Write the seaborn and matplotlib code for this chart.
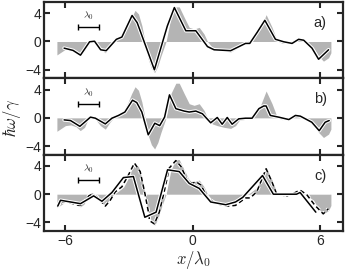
import numpy as np
import pandas as pd
import matplotlib
matplotlib.use("Agg")
import matplotlib.pyplot as plt
import matplotlib.patheffects as pe
import seaborn as sns

# Exact spectrum (gray fill)
x_exact = [-6.4, -6.25, -6.0, -5.75, -5.5, -5.3, -5.1, -4.9, -4.75, -4.6, -4.35, -4.12,
           -3.9, -3.7, -3.5, -3.25, -3.05, -2.88, -2.72, -2.56, -2.4, -2.25, -2.1, -1.95,
           -1.8, -1.65, -1.5, -1.26, -1.03, -0.8, -0.64, -0.41, -0.17, 0.06, 0.3, 0.53,
           0.69, 0.92, 1.15, 1.47, 1.78, 2.01, 2.2, 2.4, 2.7, 2.95, 3.19, 3.45, 3.73,
           3.97, 4.2, 4.5, 4.83, 5.06, 5.37, 5.68, 5.92, 6.15, 6.39, 6.5]
y_exact = [-1.9, -1.6, -1.1, -1.0, -1.25, -1.8, -1.35, 0.0, 0.25, -0.15, -1.1, -1.6,
           -0.6, 0.1, 0.43, 1.05, 2.2, 3.45, 4.4, 3.9, 2.25, 0.0, -2.5, -3.8,
           -4.4, -3.5, -2.05, 0.0, 3.45, 4.9, 4.9, 3.45, 2.0, 1.77, 2.0, 1.05,
           0.0, -0.86, -1.1, -1.34, -1.49, -1.1, -0.3, -0.25, 0.2, 0.8, 1.8, 3.8, 2.0,
           0.1, -0.25, -0.15, 0.33, 0.25, -0.15, -0.86, -2.06, -2.78, -2.3, -1.6]

# panel a) solid line
x_a = [-6.06, -5.64, -5.29, -4.86, -4.63, -4.34, -4.08, -3.6, -3.34, -2.86, -2.62, -1.81,
       -1.2, -0.87, -0.33, 0.14, 0.69, 1.0, 1.78, 2.48, 2.68, 3.03, 3.39, 3.89, 4.28,
       4.67, 4.98, 5.22, 5.61, 5.92, 6.39]
y_a = [-0.94, -1.26, -1.93, -0.04, 0.04, -1.17, -1.3, 0.31, 0.63, 3.68, 2.66, -4.0,
       2.2, 4.8, 1.52, 1.52, -0.72, -1.17, -1.3, -0.27, -0.27, 1.3, 3.0, 0.31, -0.04,
       -0.27, 0.31, 0.18, -0.94, -2.51, -1.17]

# panel b) solid line
x_b = [-6.06, -5.76, -5.32, -4.82, -4.59, -4.12, -3.81, -3.5, -3.2, -2.84, -2.64, -2.4,
       -2.1, -1.79, -1.56, -1.33, -1.1, -0.8, -0.41, -0.17, 0.14, 0.45, 0.84, 1.15,
       1.38, 1.62, 1.85, 2.16, 2.48, 2.79, 3.11, 3.34, 3.45, 3.65, 4.04, 4.52, 4.83,
       5.06, 5.6, 5.95, 6.23, 6.42]
y_b = [-0.29, -0.38, -1.2, 0.1, -0.05, -0.86, -0.05, 0.34, 0.82, 2.5, 2.16, 0.82,
       -2.4, -0.76, -1.1, 0.1, 3.25, 1.3, 0.96, 0.82, 0.96, 0.58, -0.7, 0.05,
       -0.9, 0.05, -0.9, -0.14, -0.05, -0.05, 1.3, 1.68, 1.68, 0.34, 0.1, -0.24, 0.34,
       0.24, -0.62, -1.82, -0.62, -0.38]

# panel c) solid line
x_c = [-6.36, -6.23, -5.76, -5.29, -4.67, -4.28, -3.81, -3.27, -2.8, -2.26, -1.73, -1.19,
       -0.64, -0.17, 0.3, 0.84, 1.55, 2.01, 2.35, 3.28, 3.79, 4.88, 5.05, 5.79]
y_c = [-1.68, -0.86, -1.1, -1.34, -0.24, -1.0, 0.24, 2.35, 2.5, -3.26, -2.54, 3.45,
       3.2, 1.53, 0.82, -1.1, -1.49, -1.1, -0.45, 2.64, 0.0, 0.0, 0.24, -2.54]

# panel c) dashed line
x_d = [-6.39, -6.23, -5.92, -5.37, -5.21, -4.9, -4.74, -4.51, -4.12, -3.89, -3.65, -3.34,
       -3.03, -2.75, -2.48, -2.25, -2.09, -2.04, -1.81, -1.58, -1.35, -1.11, -0.8, -0.56,
       -0.25, -0.02, 0.14, 0.38, 0.69, 1.08, 1.7, 2.01, 2.48, 2.7, 3.01, 3.45, 3.72,
       3.95, 4.42, 4.73, 5.04, 5.36, 5.75, 6.14, 6.38]
y_d = [-1.82, -1.1, -1.1, -1.58, -1.58, -0.24, 0.0, -0.38, -1.68, -0.86, 0.34, 1.05,
       2.73, 4.4, 3.2, 0.0, -2.54, -3.74, -4.2, -2.54, 0.34, 3.7, 4.75, 3.93,
       1.87, 1.53, 1.77, 1.3, -0.53, -1.34, -1.68, -1.58, -0.53, -0.53, 0.34, 3.6, 1.77,
       0.0, -0.24, 0.1, 0.58, -0.05, -1.58, -2.78, -2.06]

panel_labels = ["a)", "b)", "c)"]

sns.set_style("ticks")
plt.rcParams["font.family"] = ["Liberation Sans", "DejaVu Sans"]
plt.rcParams["mathtext.fontset"] = "cm"

fig, axes = plt.subplots(3, 1, figsize=(3.45, 2.73), dpi=100, sharex=True)
fig.subplots_adjust(left=0.128, right=0.993, top=0.993, bottom=0.154, hspace=0)

halo = [pe.withStroke(linewidth=2.6, foreground="white")]
solid = [(x_a, y_a), (x_b, y_b), (x_c, y_c)]

for i, ax in enumerate(axes):
    ax.fill_between(x_exact, 0, y_exact, color="#b4b4b4", lw=0)
    if i == 2:
        sns.lineplot(x=x_d, y=y_d, ax=ax, sort=False, color="black", lw=1.1,
                     linestyle=(0, (3, 2)), path_effects=halo)
    xs, ys = solid[i]
    sns.lineplot(x=xs, y=ys, ax=ax, sort=False, color="black", lw=1.1,
                 path_effects=halo)

    # lambda_0 scale bar
    ax.errorbar([-4.93], [2.0], xerr=[[0.5], [0.5]], fmt="none", ecolor="black",
                elinewidth=1.0, capsize=2, capthick=1.0)
    ax.text(-4.93, 2.7, r"$\lambda_0$", ha="center", va="bottom", fontsize=7)
    ax.text(6.0, 2.6, panel_labels[i], ha="center", va="center", fontsize=10.5)

    ax.set_xlim(-7, 7.05)
    ax.set_ylim(-5.2, 5.6)
    ax.set_yticks([-4, 0, 4])
    ax.set_yticklabels(["\u22124", "0", "4"])
    ax.set_xticks([-6, 0, 6])
    ax.tick_params(direction="in", top=True, right=True, length=4, width=1.5,
                   labelsize=10, pad=2)
    for s in ax.spines.values():
        s.set_linewidth(1.6)
    ax.set_ylabel("")

axes[2].set_xticklabels(["\u22126", "0", "6"])
axes[2].set_xlabel(r"$x/\lambda_0$", fontsize=12, labelpad=1)
fig.text(12 / 345, 1 - 118 / 273, r"$\hbar\omega/\gamma$", fontsize=12,
         rotation=90, ha="center", va="center")

fig.savefig("out.png", dpi=100)
